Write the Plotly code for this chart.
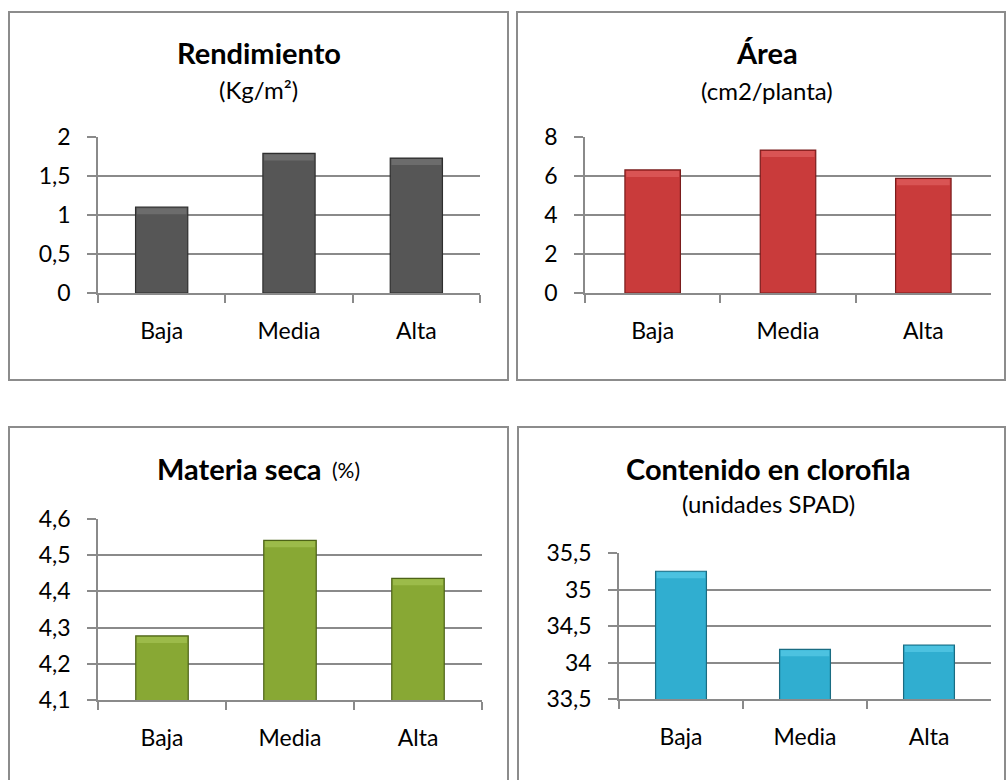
import plotly.graph_objects as go

W, H = 1008, 780

categorias = ["Baja", "Media", "Alta"]

rendimiento = [1.10, 1.79, 1.73]
area = [6.31, 7.33, 5.88]
materia_seca = [4.277, 4.541, 4.436]
clorofila = [35.25, 34.18, 34.24]

ticks_rend = [0, 0.5, 1, 1.5, 2]
ticks_area = [0, 2, 4, 6, 8]
ticks_ms = [4.1, 4.2, 4.3, 4.4, 4.5, 4.6]
ticks_clor = [33.5, 34, 34.5, 35, 35.5]


def px_x(v):
    return v / W


def px_y(v):
    return 1 - v / H


GRID = "#8a8a8a"
FONT = "Lato, 'Open Sans', sans-serif"
TICK_SIZE = 23
SUB_SIZE = 24
TITLE_SIZE = 29
BAR_W = 0.41
BEVEL_PX = 6

# each panel: data, colours, plot-area box in pixels (left, right, top, bottom), ticks
paneles = [
    dict(y=rendimiento, fill="#565656", light="#6c6c6c", edge="#2e2e2e",
         box=(98, 480, 137, 293), ticks=ticks_rend),
    dict(y=area, fill="#c93b3b", light="#d95454", edge="#7a1c1c",
         box=(585, 991, 137, 293), ticks=ticks_area),
    dict(y=materia_seca, fill="#88a834", light="#9cbb4a", edge="#4d6317",
         box=(98, 482, 519, 700), ticks=ticks_ms),
    dict(y=clorofila, fill="#30aed0", light="#4cc2e0", edge="#1a6c82",
         box=(619, 991, 553, 699), ticks=ticks_clor),
]

fig = go.Figure()
layout = dict(
    template="none",
    width=W, height=H,
    margin=dict(l=0, r=0, t=0, b=0, pad=0),
    paper_bgcolor="white", plot_bgcolor="white",
    showlegend=False,
    separators=",.",
    barmode="overlay",
    font=dict(family=FONT, color="#000000"),
)

for i, p in enumerate(paneles, start=1):
    xa = "x" if i == 1 else f"x{i}"
    ya = "y" if i == 1 else f"y{i}"
    l, r, t, b = p["box"]
    tk = p["ticks"]
    # data units covered by the bevelled top edge
    unit = (tk[-1] - tk[0]) / (b - t)
    fig.add_trace(go.Bar(
        x=categorias, y=p["y"], xaxis=xa, yaxis=ya,
        marker=dict(color=p["fill"], line=dict(color=p["edge"], width=1.2)),
        width=BAR_W, hoverinfo="x+y",
    ))
    fig.add_trace(go.Bar(
        x=categorias, y=[BEVEL_PX * unit] * len(p["y"]),
        base=[v - (BEVEL_PX + 1) * unit for v in p["y"]],
        xaxis=xa, yaxis=ya,
        marker=dict(color=p["light"], line=dict(width=0)),
        width=BAR_W - 0.02, hoverinfo="skip",
    ))
    layout[f"xaxis{'' if i == 1 else i}"] = dict(
        domain=[px_x(l), px_x(r)], anchor=ya, automargin=False,
        showline=True, linecolor=GRID, linewidth=1.5,
        ticks="outside", tickson="boundaries", ticklen=8, tickcolor=GRID, tickwidth=1.5,
        tickfont=dict(size=TICK_SIZE, family=FONT, color="#000"),
        ticklabelstandoff=17,
        showgrid=False, zeroline=False,
    )
    layout[f"yaxis{'' if i == 1 else i}"] = dict(
        domain=[px_y(b), px_y(t)], anchor=xa, automargin=False,
        range=[tk[0], tk[-1]], tickvals=tk,
        showline=True, linecolor=GRID, linewidth=1.5,
        ticks="outside", ticklen=9, tickcolor=GRID, tickwidth=1.5,
        showgrid=True, gridcolor=GRID, gridwidth=1.5,
        zeroline=False,
        tickfont=dict(size=TICK_SIZE, family=FONT, color="#000"),
        ticklabelstandoff=12,
    )

# panel frames
marcos = [(9, 508, 12, 380), (517, 1005, 12, 380), (9, 508, 427, 800), (518, 1005, 427, 800)]
shapes = []
for x0, x1, y0, y1 in marcos:
    shapes.append(dict(
        type="rect", xref="paper", yref="paper",
        x0=px_x(x0), x1=px_x(x1), y0=px_y(y1), y1=px_y(y0),
        line=dict(color="#8c8c8c", width=2), fillcolor="rgba(0,0,0,0)", layer="below",
    ))
layout["shapes"] = shapes

# (text, x, y, size, xanchor)
titulos = [
    ("<b>Rendimiento</b>", 259, 53, TITLE_SIZE, "center"),
    ("(Kg/m²)", 258, 89, SUB_SIZE, "center"),
    ("<b>Área</b>", 767, 53, TITLE_SIZE, "center"),
    ("(cm2/planta)", 767, 90, SUB_SIZE, "center"),
    ("<b>Materia seca</b>", 324, 468, TITLE_SIZE, "right"),
    ("(%)", 330, 469, 21, "left"),
    ("<b>Contenido en clorofila</b>", 768, 468, TITLE_SIZE, "center"),
    ("(unidades SPAD)", 768, 503, SUB_SIZE, "center"),
]
layout["annotations"] = [
    dict(text=t, x=px_x(x), y=px_y(y), xref="paper", yref="paper",
         xanchor=xa, yanchor="middle", showarrow=False,
         font=dict(size=s, family=FONT, color="#000"))
    for t, x, y, s, xa in titulos
]

fig.update_layout(**layout)
fig.write_html("out.html")
